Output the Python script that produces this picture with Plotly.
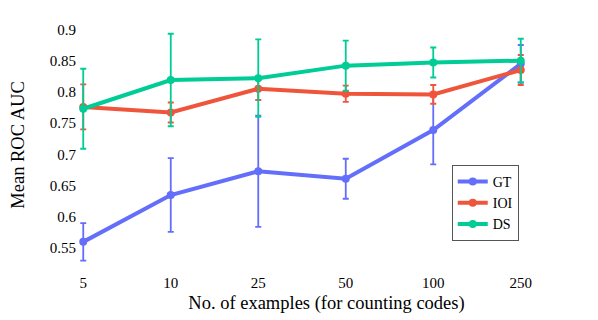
import plotly.graph_objects as go

examples = ["5", "10", "25", "50", "100", "250"]

gt_mean = [0.560, 0.635, 0.673, 0.661, 0.739, 0.845]
gt_err = [0.030, 0.059, 0.089, 0.032, 0.055, 0.030]

ioi_mean = [0.776, 0.767, 0.805, 0.797, 0.796, 0.835]
ioi_err = [0.036, 0.016, 0.018, 0.013, 0.015, 0.024]

ds_mean = [0.773, 0.819, 0.822, 0.842, 0.847, 0.850]
ds_err = [0.064, 0.074, 0.062, 0.040, 0.024, 0.035]

series = [
    ("GT", gt_mean, gt_err, "#636efa"),
    ("IOI", ioi_mean, ioi_err, "#EF553B"),
    ("DS", ds_mean, ds_err, "#00cc96"),
]

fig = go.Figure()
for name, mean, err, color in series:
    fig.add_trace(go.Scatter(
        x=examples, y=mean, name=name, mode="lines+markers",
        line=dict(color=color, width=4),
        marker=dict(color=color, size=8),
        error_y=dict(type="data", array=err, visible=True,
                     color=color, thickness=1.8, width=3),
    ))

# page body has an 8px margin, so the figure is sized to fit the window
font = "Liberation Serif, Times New Roman, serif"
fig.update_layout(
    width=590, height=312,
    margin=dict(l=70, r=23, t=12, b=50),
    plot_bgcolor="white", paper_bgcolor="white",
    font=dict(family=font, size=15, color="black"),
    showlegend=True,
    legend=dict(x=0.752, y=0.42, xanchor="left", yanchor="top",
                bordercolor="#555", borderwidth=1, bgcolor="white",
                font=dict(size=14), itemwidth=30, tracegroupgap=0),
)
fig.update_xaxes(
    type="category", range=[-0.06, 5.62], automargin=False,
    showgrid=False, showline=False, zeroline=False,
    ticks="", tickfont=dict(size=15), ticklabelstandoff=2,
    title=dict(text="No. of examples (for counting codes)", font=dict(size=18.5), standoff=6),
)
fig.update_yaxes(
    range=[0.515, 0.915], automargin=False,
    tickvals=[0.55, 0.6, 0.65, 0.7, 0.75, 0.8, 0.85, 0.9],
    ticktext=["0.55", "0.6", "0.65", "0.7", "0.75", "0.8", "0.85", "0.9"],
    showgrid=False, showline=False, zeroline=False,
    ticks="", tickfont=dict(size=15), ticklabelstandoff=1,
    title=dict(text="Mean ROC AUC", font=dict(size=18.5), standoff=34),
)

fig.write_html("out.html")
